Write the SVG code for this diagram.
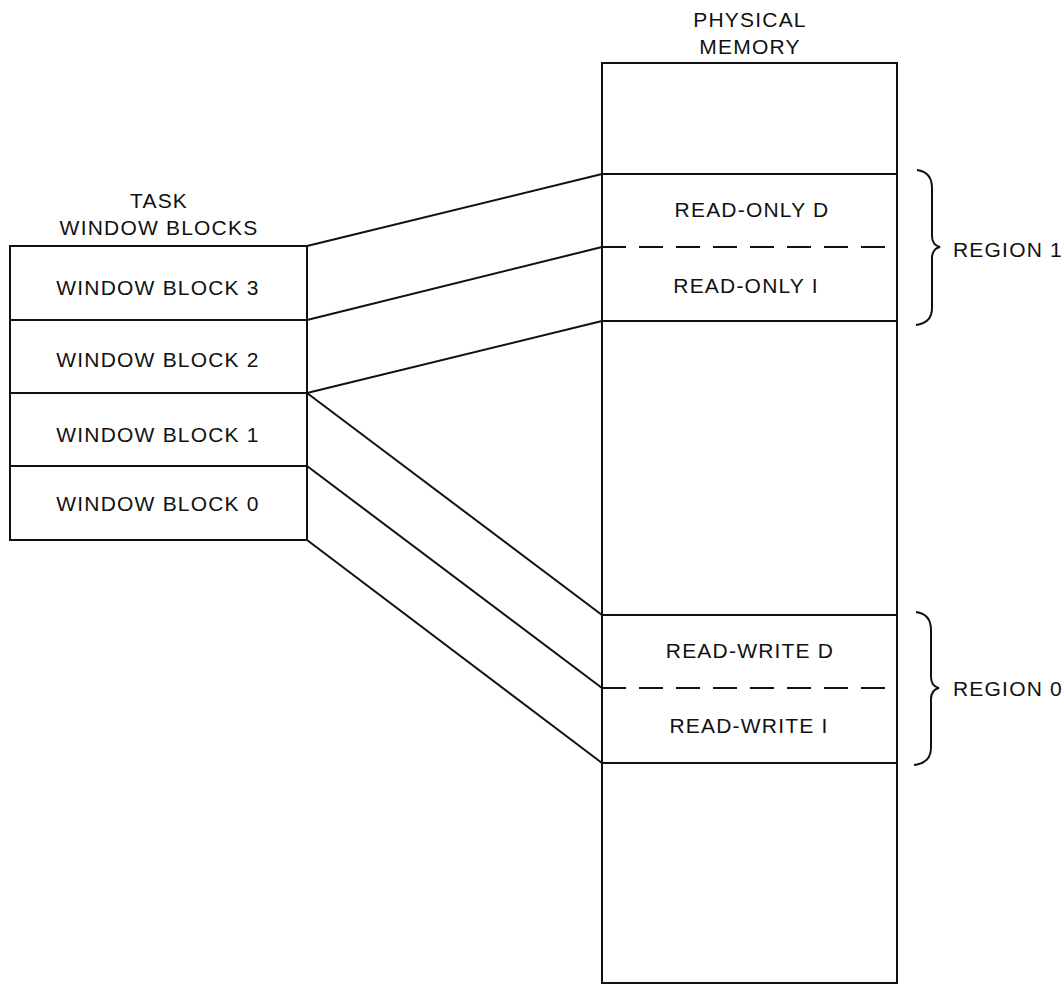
<svg xmlns="http://www.w3.org/2000/svg" width="1064" height="985" viewBox="0 0 1064 985">
<style>
.ln{fill:none;stroke:#111;stroke-width:2}
.ds{fill:none;stroke:#111;stroke-width:2;stroke-dasharray:24 13}
text{font-family:"Liberation Sans",Arial,sans-serif;font-size:21px;fill:#111;letter-spacing:1.2px}
.c{text-anchor:middle}
</style>
<rect width="1064" height="985" fill="#fff"/>
<g id="title-task">
<text class="c" x="159" y="208">TASK</text>
<text class="c" x="159" y="235">WINDOW BLOCKS</text>
</g>
<g id="title-memory">
<text class="c" x="750" y="27">PHYSICAL</text>
<text class="c" x="750" y="54">MEMORY</text>
</g>
<g id="window-block-3">
<rect class="ln" x="10" y="246" width="297" height="74"/>
<text class="c" x="158" y="295">WINDOW BLOCK 3</text>
</g>
<g id="window-block-2">
<rect class="ln" x="10" y="320" width="297" height="73"/>
<text class="c" x="158" y="367">WINDOW BLOCK 2</text>
</g>
<g id="window-block-1">
<rect class="ln" x="10" y="393" width="297" height="73"/>
<text class="c" x="158" y="442">WINDOW BLOCK 1</text>
</g>
<g id="window-block-0">
<rect class="ln" x="10" y="466" width="297" height="74"/>
<text class="c" x="158" y="511">WINDOW BLOCK 0</text>
</g>
<g id="physical-memory">
<rect class="ln" x="602" y="63" width="295" height="920"/>
</g>
<g id="read-only-d">
<line class="ln" x1="602" y1="174" x2="897" y2="174"/>
<text class="c" x="752" y="217">READ-ONLY D</text>
</g>
<g id="read-only-i">
<line class="ds" x1="602" y1="247" x2="897" y2="247"/>
<text class="c" x="746" y="293">READ-ONLY I</text>
<line class="ln" x1="602" y1="321" x2="897" y2="321"/>
</g>
<g id="read-write-d">
<line class="ln" x1="602" y1="615" x2="897" y2="615"/>
<text class="c" x="750" y="658">READ-WRITE D</text>
</g>
<g id="read-write-i">
<line class="ds" x1="602" y1="688" x2="888" y2="688"/>
<text class="c" x="749" y="733">READ-WRITE I</text>
<line class="ln" x1="602" y1="763" x2="897" y2="763"/>
</g>
<g id="region-1">
<path class="ln" d="M917,170 Q932,172 932,188 L932,236 Q932,245 940,247 Q932,249 932,258 L932,308 Q932,323 916,325"/>
<text x="953" y="257">REGION 1</text>
</g>
<g id="region-0">
<path class="ln" d="M916,612 Q931,614 931,630 L931,677 Q931,686 939,688 Q931,690 931,699 L931,748 Q931,763 914,765"/>
<text x="953" y="696">REGION 0</text>
</g>
<g id="connectors">
<line class="ln" x1="307" y1="246" x2="602" y2="174"/>
<line class="ln" x1="307" y1="320" x2="602" y2="247"/>
<line class="ln" x1="307" y1="393" x2="602" y2="321"/>
<line class="ln" x1="307" y1="393" x2="602" y2="615"/>
<line class="ln" x1="307" y1="466" x2="602" y2="688"/>
<line class="ln" x1="307" y1="540" x2="602" y2="763"/>
</g>
</svg>
